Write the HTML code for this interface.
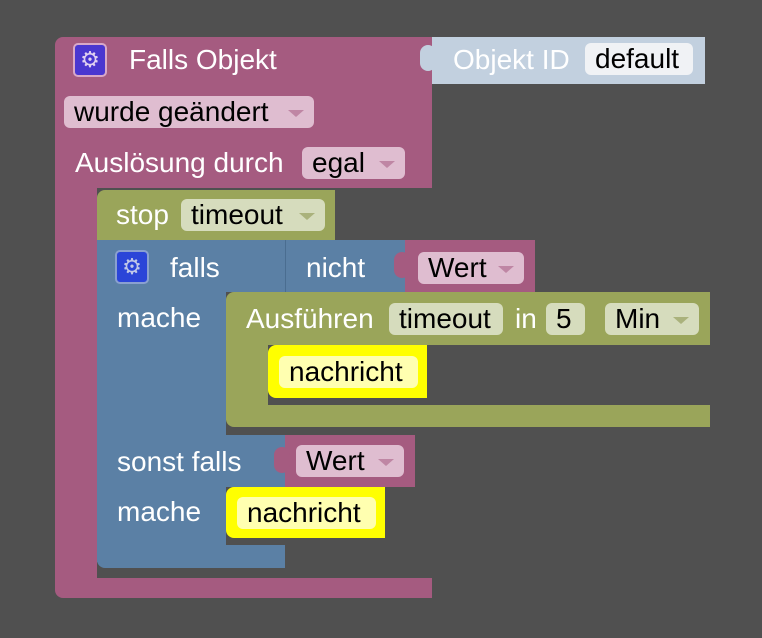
<!DOCTYPE html>
<html><head><meta charset="utf-8"><style>
body{margin:0;width:762px;height:638px;background:#505050;overflow:hidden;font-family:"Liberation Sans",sans-serif;}
.a{position:absolute;box-sizing:border-box;}
.pk{background:#a55b80;}
.gr{background:#9aa55a;}
.bl{background:#5b80a5;}
.t{position:absolute;color:#fff;font-size:28px;line-height:30px;white-space:nowrap;}
.f{position:absolute;box-sizing:border-box;border-radius:6px;font-size:28px;line-height:32px;color:#000;padding-left:10px;white-space:nowrap;overflow:hidden;}
.fp{background:#dfbdd0;}
.fg{background:#d6dcbd;}
.fy{background:#ffffb0;}
.dd:after{content:"";position:absolute;right:10px;top:14px;border-left:8px solid transparent;border-right:8px solid transparent;border-top:7px solid rgba(160,80,120,0.5);}
.fg.dd:after{border-top-color:rgba(140,150,80,0.6);}
</style></head><body>
<div class="a pk" style="left:55px;top:37px;width:377px;height:151px;border-radius:8px 0 0 0;"></div>
<div class="a pk" style="left:55px;top:180px;width:42px;height:410px;"></div>
<div class="a pk" style="left:55px;top:578px;width:377px;height:20px;border-radius:0 0 0 8px;"></div>
<div class="a" style="left:432px;top:37px;width:273px;height:47px;background:#c2d0df;"></div>
<div class="a" style="left:420px;top:45px;width:16px;height:26px;border-radius:8px;background:#c2d0df;"></div>
<div class="t" style="left:453px;top:45px;">Objekt ID</div>
<div class="f" style="left:585px;top:43px;width:108px;background:#f0f2f5;">default</div>
<div class="a" style="left:73px;top:43px;width:34px;height:34px;background:#4a36d0;border:2px solid #d8a8c8;border-radius:5px;color:#e0d0f0;font-size:22px;text-align:center;line-height:30px;">⚙</div>
<div class="t" style="left:129px;top:45px;">Falls Objekt</div>
<div class="f fp dd" style="left:64px;top:96px;width:250px;">wurde geändert</div>
<div class="t" style="left:75px;top:148px;">Auslösung durch</div>
<div class="f fp dd" style="left:302px;top:147px;width:103px;">egal</div>
<div class="a gr" style="left:97px;top:190px;width:238px;height:50px;border-radius:8px 0 0 0;"></div>
<div class="t" style="left:116px;top:200px;">stop</div>
<div class="f fg dd" style="left:181px;top:199px;width:144px;">timeout</div>
<div class="a bl" style="left:97px;top:240px;width:188px;height:52px;"></div>
<div class="a bl" style="left:97px;top:292px;width:129px;height:270px;"></div>
<div class="a bl" style="left:97px;top:435px;width:188px;height:52px;"></div>
<div class="a bl" style="left:97px;top:545px;width:188px;height:23px;border-radius:0 0 0 8px;"></div>
<div class="a bl" style="left:285px;top:240px;width:120px;height:52px;border-left:1px solid #4a6d90;"></div>
<div class="a" style="left:115px;top:250px;width:34px;height:34px;background:#2b45d8;border:2px solid #8aa0d0;border-radius:5px;color:#c0c8e8;font-size:22px;text-align:center;line-height:30px;">⚙</div>
<div class="t" style="left:170px;top:253px;">falls</div>
<div class="t" style="left:306px;top:253px;">nicht</div>
<div class="t" style="left:117px;top:303px;">mache</div>
<div class="t" style="left:117px;top:447px;">sonst falls</div>
<div class="t" style="left:117px;top:497px;">mache</div>
<div class="a pk" style="left:405px;top:240px;width:130px;height:52px;"></div>
<div class="a pk" style="left:394px;top:252px;width:16px;height:26px;border-radius:8px;"></div>
<div class="f fp dd" style="left:418px;top:252px;width:106px;">Wert</div>
<div class="a gr" style="left:226px;top:292px;width:484px;height:53px;border-radius:8px 0 0 0;"></div>
<div class="a gr" style="left:226px;top:340px;width:42px;height:80px;"></div>
<div class="a gr" style="left:226px;top:405px;width:484px;height:22px;border-radius:0 0 0 8px;"></div>
<div class="t" style="left:246px;top:304px;">Ausführen</div>
<div class="f fg" style="left:389px;top:303px;width:114px;">timeout</div>
<div class="t" style="left:515px;top:304px;">in</div>
<div class="f fg" style="left:546px;top:303px;width:39px;">5</div>
<div class="f fg dd" style="left:605px;top:303px;width:94px;">Min</div>
<div class="a" style="left:268px;top:345px;width:159px;height:53px;background:#ffff00;border-radius:8px 0 0 8px;"></div>
<div class="f fy" style="left:279px;top:356px;width:139px;">nachricht</div>
<div class="a pk" style="left:285px;top:435px;width:130px;height:52px;"></div>
<div class="a pk" style="left:274px;top:447px;width:16px;height:26px;border-radius:8px;"></div>
<div class="f fp dd" style="left:296px;top:445px;width:108px;">Wert</div>
<div class="a" style="left:226px;top:487px;width:159px;height:51px;background:#ffff00;border-radius:8px 0 0 8px;"></div>
<div class="f fy" style="left:237px;top:497px;width:139px;">nachricht</div>
</body></html>
